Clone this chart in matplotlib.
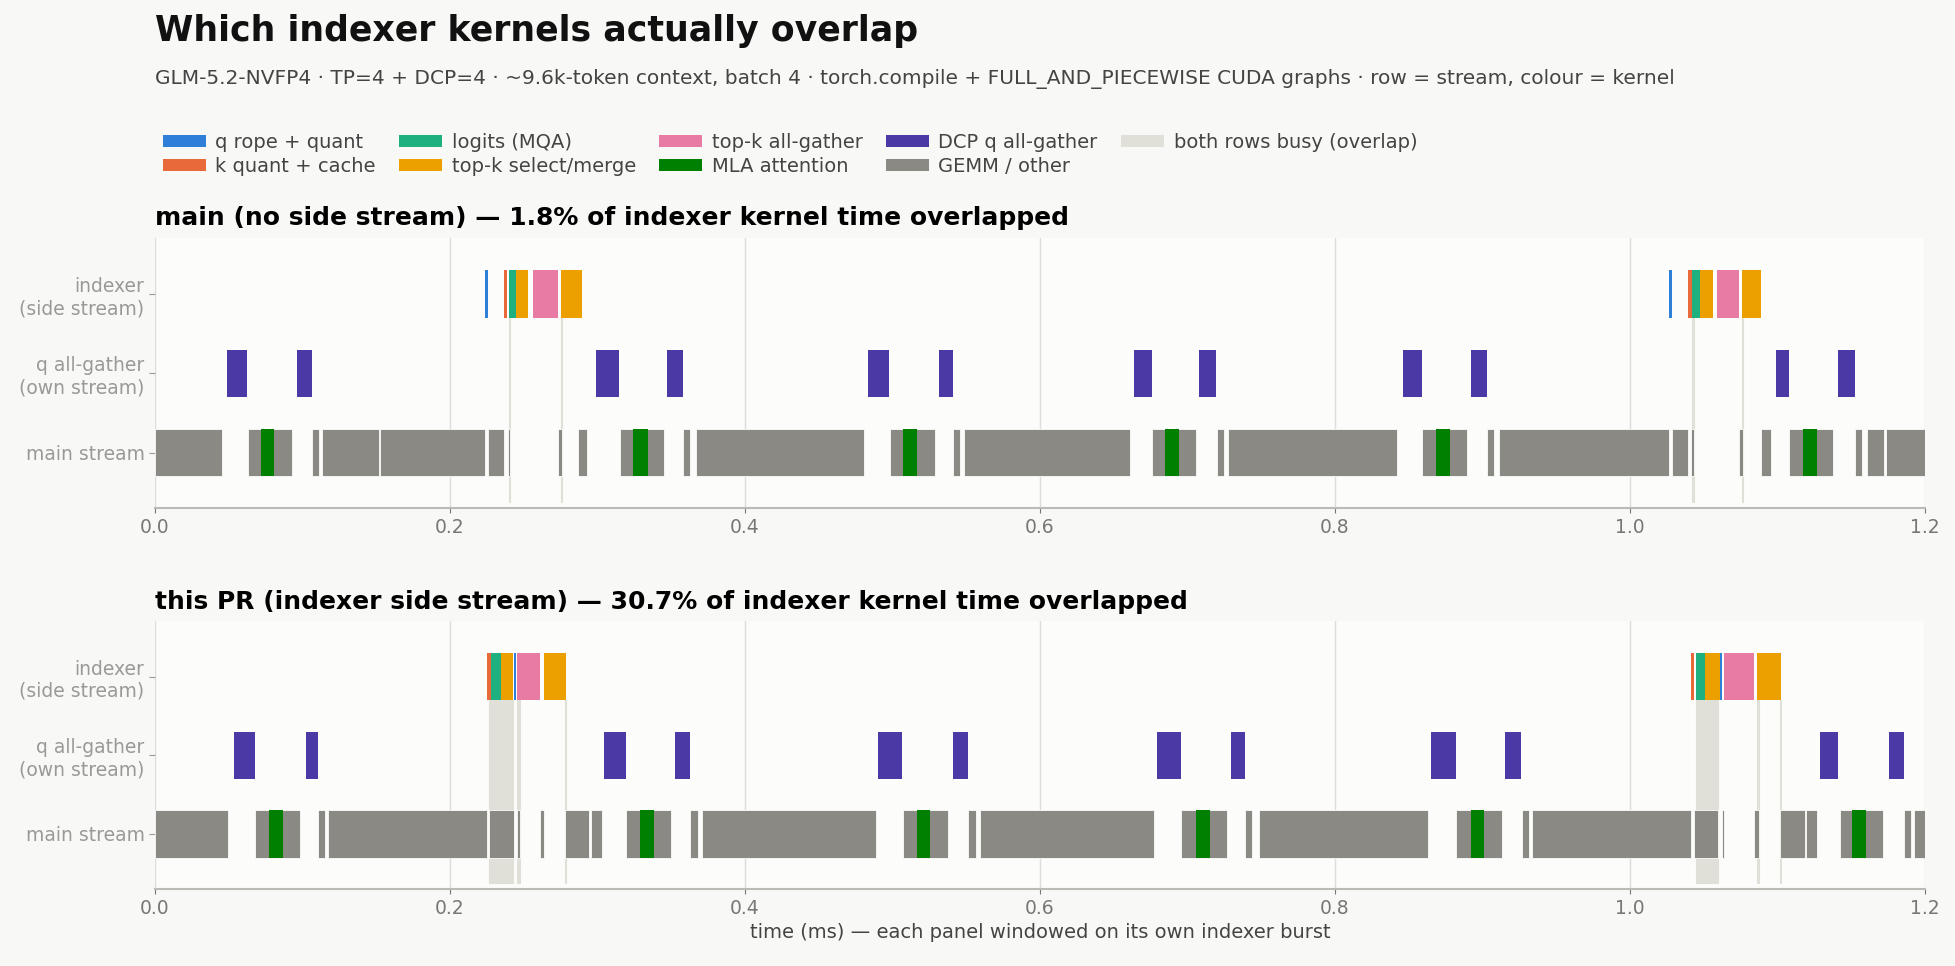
import matplotlib.pyplot as plt
import matplotlib.patches as patches

# colours per kernel class
COLORS = {
    "rope": "#2f7ed8", "kq": "#e8693a", "logits": "#1fb07f", "sel": "#eca000",
    "ag": "#e87ba4", "mla": "#008000", "dcp": "#4b3aa6", "gemm": "#8a8984",
    "ovl": "#e0dfd8",
}
LEGEND = [("q rope + quant", "rope"), ("k quant + cache", "kq"), ("logits (MQA)", "logits"),
          ("top-k select/merge", "sel"), ("top-k all-gather", "ag"), ("MLA attention", "mla"),
          ("DCP q all-gather", "dcp"), ("GEMM / other", "gemm"), ("both rows busy (overlap)", "ovl")]
ROWS = ["main stream", "q all-gather\n(own stream)", "indexer\n(side stream)"]

# ---- panel 1: main (no side stream); (start, end) in ms
main_gemm_a = [(0, 0.0455), (0.063, 0.093), (0.1066, 0.1112), (0.1132, 0.1517), (0.1525, 0.2237),
               (0.2256, 0.2365), (0.2392, 0.2408), (0.273, 0.2757), (0.2865, 0.2931), (0.315, 0.345),
               (0.358, 0.3626), (0.3667, 0.4804), (0.4983, 0.5286), (0.5407, 0.5458), (0.5485, 0.6612),
               (0.6756, 0.7056), (0.7198, 0.7246), (0.7277, 0.8423), (0.8593, 0.8897), (0.9031, 0.9079),
               (0.9114, 1.0263), (1.0283, 1.039), (1.0413, 1.0433), (1.0737, 1.0765), (1.0891, 1.0959),
               (1.1077, 1.1373), (1.1527, 1.1575), (1.161, 1.1725), (1.1733, 1.2)]
main_mla_a = [(0.072, 0.081), (0.324, 0.334), (0.507, 0.5166), (0.685, 0.6945), (0.8687, 0.8782),
              (1.1172, 1.1267)]
dcp_a = [(0.049, 0.0622), (0.0965, 0.1066), (0.2988, 0.3147), (0.347, 0.358), (0.4831, 0.4975),
         (0.5314, 0.5407), (0.664, 0.6756), (0.708, 0.719), (0.8462, 0.8593), (0.8924, 0.9031),
         (1.0987, 1.1077), (1.1409, 1.1527)]
idx_a = [(0.2237, 0.2256, "rope"), (0.2365, 0.2389, "kq"), (0.24, 0.2447, "logits"), (0.2447, 0.2528, "sel"),
         (0.2563, 0.273, "ag"), (0.275, 0.2894, "sel"),
         (1.0263, 1.0283, "rope"), (1.039, 1.0418, "kq"), (1.0421, 1.0473, "logits"), (1.0473, 1.056, "sel"),
         (1.0587, 1.0737, "ag"), (1.0757, 1.0891, "sel")]
ovl_a = [(0.2400, 0.2408), (0.2750, 0.2757), (1.0421, 1.0433), (1.0757, 1.0765)]

# ---- panel 2: this PR (indexer side stream)
main_gemm_b = [(0, 0.0494), (0.0677, 0.0984), (0.1105, 0.1151), (0.1175, 0.2252), (0.2264, 0.2435),
               (0.2455, 0.2474), (0.261, 0.2637), (0.2777, 0.2941), (0.2956, 0.303), (0.3194, 0.3497),
               (0.3625, 0.368), (0.3707, 0.4886), (0.5069, 0.5376), (0.5512, 0.5563), (0.559, 0.6775),
               (0.6953, 0.7265), (0.7392, 0.7439), (0.7483, 0.8632), (0.8822, 0.9134), (0.9268, 0.9315),
               (0.9335, 1.0413), (1.0433, 1.0595), (1.0623, 1.0635), (1.0844, 1.0872), (1.1014, 1.1184),
               (1.1196, 1.1267), (1.1421, 1.1717), (1.1859, 1.1907), (1.1926, 1.2)]
main_mla_b = [(0.0774, 0.0867), (0.3287, 0.3384), (0.5166, 0.5252), (0.7056, 0.7151), (0.8924, 0.9011),
              (1.1508, 1.1602)]
dcp_b = [(0.0537, 0.0677), (0.1023, 0.1105), (0.3042, 0.3194), (0.3524, 0.3625), (0.4901, 0.5065),
         (0.5407, 0.5512), (0.6791, 0.6953), (0.7297, 0.7392), (0.8652, 0.8822), (0.9153, 0.926),
         (1.129, 1.1413), (1.1753, 1.1855)]
idx_b = [(0.2252, 0.228, "kq"), (0.228, 0.2346, "logits"), (0.2346, 0.2428, "sel"), (0.2431, 0.2447, "rope"),
         (0.2455, 0.261, "ag"), (0.2637, 0.2785, "sel"),
         (1.0413, 1.0433, "kq"), (1.0445, 1.0508, "logits"), (1.0508, 1.0607, "sel"), (1.0607, 1.0623, "rope"),
         (1.0635, 1.0844, "ag"), (1.0864, 1.1022, "sel")]
ovl_b = [(0.2264, 0.2428), (0.2455, 0.2474), (0.2777, 0.2785), (1.0445, 1.0595), (1.0864, 1.0872),
         (1.1014, 1.1022)]

H = 0.6


def bars(ax, y, spans, key, ec=None):
    ax.broken_barh([(a, b - a) for a, b in spans], (y - H / 2, H), facecolors=COLORS[key],
                   edgecolors=ec if ec else "none", linewidth=0.6, zorder=3)


def draw_panel(ax, title, gemm, mla, dcp, idx, ovl):
    ax.set_facecolor("#fcfcfa")
    for a, b in ovl:
        ax.add_patch(patches.Rectangle((a, -0.62), b - a, 2 - H / 2 + 0.62, facecolor=COLORS["ovl"],
                                       edgecolor=COLORS["ovl"], linewidth=0.8, zorder=1))
    bars(ax, 0, gemm, "gemm", ec="#fcfcfa")
    bars(ax, 0, mla, "mla")
    bars(ax, 1, dcp, "dcp")
    for a, b, k in idx:
        ax.broken_barh([(a, b - a)], (2 - H / 2, H), facecolors=COLORS[k], edgecolors="none", zorder=3)
    ax.set_xlim(0, 1.2)
    ax.set_ylim(-0.7, 2.71)
    ax.set_yticks([0, 1, 2], ROWS, color="#777777", fontsize=13.5)
    ax.set_xticks([0, 0.2, 0.4, 0.6, 0.8, 1.0, 1.2])
    ax.tick_params(axis="x", colors="#777777", labelsize=13.5)
    ax.tick_params(axis="y", colors="#999999", length=4)
    ax.grid(axis="x", color="#dddddd", linewidth=1, zorder=0)
    ax.set_axisbelow(True)
    for s in ["top", "right", "left"]:
        ax.spines[s].set_visible(False)
    ax.spines["bottom"].set_color("#bbbbb5")
    ax.spines["bottom"].set_linewidth(1.5)
    ax.set_title(title, loc="left", fontsize=18, fontweight="bold", pad=9)


fig = plt.figure(figsize=(19.55, 9.66), dpi=100, facecolor="#f8f8f6")
ax1 = fig.add_axes([155 / 1955, 1 - 508 / 966, 1770 / 1955, 270 / 966])
ax2 = fig.add_axes([155 / 1955, 1 - 889 / 966, 1770 / 1955, 268 / 966])

draw_panel(ax1, "main (no side stream) \u2014 1.8% of indexer kernel time overlapped",
           main_gemm_a, main_mla_a, dcp_a, idx_a, ovl_a)
draw_panel(ax2, "this PR (indexer side stream) \u2014 30.7% of indexer kernel time overlapped",
           main_gemm_b, main_mla_b, dcp_b, idx_b, ovl_b)
ax2.set_xlabel("time (ms) \u2014 each panel windowed on its own indexer burst", color="#444444", fontsize=14)

fig.text(155 / 1955, 1 - 31 / 966, "Which indexer kernels actually overlap", fontsize=25, fontweight="bold",
         va="center", color="#111111")
fig.text(155 / 1955, 1 - 79 / 966,
         "GLM-5.2-NVFP4 \u00b7 TP=4 + DCP=4 \u00b7 ~9.6k-token context, batch 4 \u00b7 torch.compile + "
         "FULL_AND_PIECEWISE CUDA graphs \u00b7 row = stream, colour = kernel",
         fontsize=14.5, va="center", color="#444444")

handles = [patches.Patch(facecolor=COLORS[k], label=l) for l, k in LEGEND]
fig.legend(handles=handles, loc="upper left", bbox_to_anchor=(155 / 1955 + 0.004, 1 - 133 / 966),
           ncol=5, frameon=False, fontsize=14, labelcolor="#444444", handlelength=2.2, handleheight=0.6,
           columnspacing=1.2, handletextpad=0.5, borderaxespad=0, borderpad=0, labelspacing=0.25)

fig.savefig("out.png", dpi=100, facecolor=fig.get_facecolor())
